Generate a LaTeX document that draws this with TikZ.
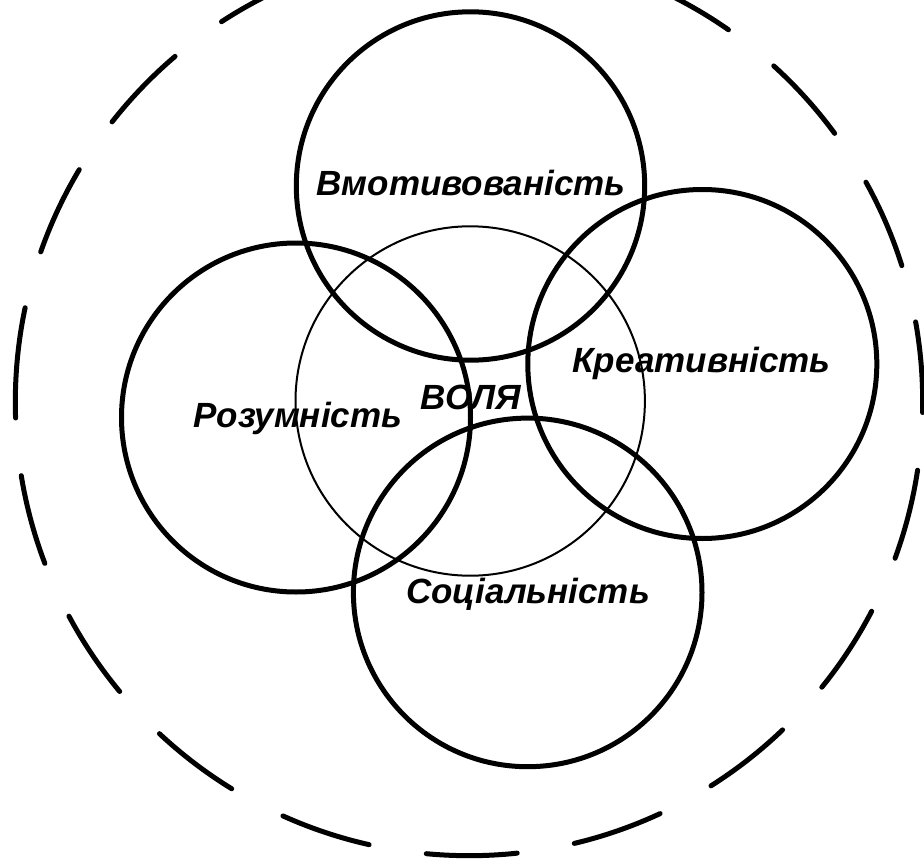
\documentclass[tikz,border=0pt]{standalone}
\usepackage{fontspec}
\setmainfont{Liberation Sans}
\begin{document}
\begin{tikzpicture}[x=1pt,y=-1pt,
  ring/.style={line width=5pt},
  thinring/.style={line width=2pt},
  outerring/.style={line width=5pt, line cap=round, dash pattern=on 91pt off 58pt},
  lbl/.style={font=\fontsize{35}{40}\selectfont\bfseries\itshape, anchor=base, inner sep=0pt}]
\useasboundingbox (0,0) rectangle (924,859);
\coordinate (oc) at (469,402);
\coordinate (cm) at (470.5,186);
\coordinate (ck) at (702.3,364);
\coordinate (cr) at (296,417.5);
\coordinate (cs) at (527.7,592.4);
\coordinate (cv) at (470.2,401);
\draw[outerring] (oc) ++(180.5:453.7) arc[start angle=180.5, end angle=540.5, radius=453.7];
\draw[thinring] (cv) circle[radius=174.7];
\draw[ring] (cm) circle[radius=174.2];
\draw[ring] (ck) circle[radius=174.5];
\draw[ring] (cr) circle[radius=174.5];
\draw[ring] (cs) circle[radius=174.3];
\node[lbl] (mot) at (471,195) {Вмотивованість};
\node[lbl] (kre) at (701.5,372.7) {Креативність};
\node[lbl] (roz) at (298,427.5) {Розумність};
\node[lbl] (vol) at (471,409) {ВОЛЯ};
\node[lbl] (soc) at (528,603) {Соціальність};
\end{tikzpicture}
\end{document}
